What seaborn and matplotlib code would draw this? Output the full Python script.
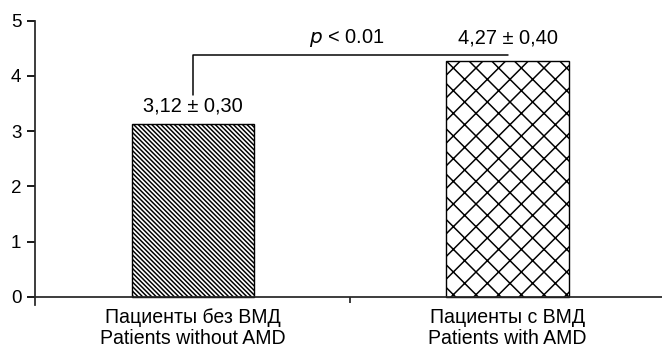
import matplotlib
matplotlib.use("Agg")
import matplotlib.pyplot as plt
import pandas as pd
import seaborn as sns

# values
groups = ["Пациенты без ВМД\nPatients without AMD", "Пациенты с ВМД\nPatients with AMD"]
means = [3.12, 4.27]
value_labels = ["3,12 ± 0,30", "4,27 ± 0,40"]
label_offsets = [0.33, 0.42]
hatches = ["\\\\\\\\\\", "x"]
p_text = "< 0.01"

DPI = 68  # lower dpi -> tighter hatch spacing, as in the original


def px(v):
    # pixels -> points at the chosen dpi
    return v * 72 / DPI


sns.set_theme(style="ticks")
plt.rcParams["font.family"] = ["Liberation Sans", "DejaVu Sans"]
plt.rcParams["hatch.linewidth"] = px(1.5)

df = pd.DataFrame({"group": groups, "mean": means})

fig = plt.figure(figsize=(662 / DPI, 351 / DPI), dpi=DPI)
ax = fig.add_axes([0.053, 0.131, 0.947, 0.810])

sns.barplot(data=df, x="group", y="mean", ax=ax, color="white",
            edgecolor="black", linewidth=px(1.4), width=0.39, errorbar=None)
for bar, h in zip(ax.patches, hatches):
    bar.set_facecolor("white")
    bar.set_hatch(h)

ax.set_xlim(-0.502, 1.491)
ax.set_ylim(-0.15, 5)
ax.set_yticks(range(0, 6))
ax.set_xlabel("")
ax.set_ylabel("")

sns.despine(ax=ax, top=True, right=True)
ax.spines["bottom"].set_position(("data", 0))
ax.spines["bottom"].set_linewidth(px(1.75))
ax.spines["left"].set_linewidth(px(1.75))
ax.spines["left"].set_bounds(-0.15, 5)

ax.tick_params(axis="y", direction="out", length=px(8), width=px(1.75),
               labelsize=px(18.75), colors="black", pad=px(5.6))
ax.tick_params(axis="x", which="major", length=0, labelsize=px(19.5),
               pad=px(11), colors="black")
for t in ax.get_xticklabels():
    t.set_linespacing(1.15)
ax.set_xticks([0.5], minor=True)
ax.tick_params(axis="x", which="minor", direction="out", length=px(6),
               width=px(1.75))

# value labels above bars
for i, (m, lab, off) in enumerate(zip(means, value_labels, label_offsets)):
    ax.text(i, m + off, lab, ha="center", va="center", fontsize=px(20),
            color="black")

# significance bracket
ax.plot([0, 0, 1], [3.65, 4.37, 4.37], color="black", lw=px(1.5))
ax.text(0.49, 4.69, "$p$ " + p_text, ha="center", va="center",
        fontsize=px(20), color="black")

fig.savefig("out.png", dpi=DPI)
